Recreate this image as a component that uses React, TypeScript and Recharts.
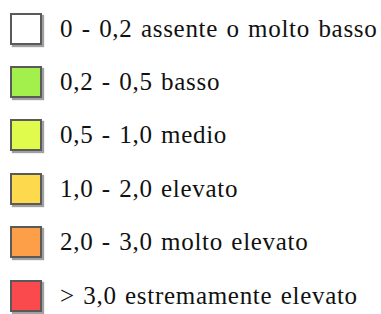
import { BarChart, Bar, Legend } from "recharts";

const labels = [
  "0 - 0,2 assente o molto basso",
  "0,2 - 0,5 basso",
  "0,5 - 1,0 medio",
  "1,0 - 2,0 elevato",
  "2,0 - 3,0 molto elevato",
  "> 3,0 estremamente elevato",
];
const colors = ["#ffffff", "#a3ef4c", "#e1fb4c", "#fdd94e", "#fd9f48", "#fb4a4e"];
const keys = ["c0", "c1", "c2", "c3", "c4", "c5"];

const data: Record<string, number | null>[] = [];

const renderLegend = (props: any) => {
  const { payload } = props;
  return (
    <div>
      {(payload || []).map((entry: any, i: number) => (
        <div
          key={i}
          style={{
            display: "flex",
            alignItems: "center",
            height: 53.4,
          }}
        >
          <div
            style={{
              width: 28,
              height: 28,
              marginLeft: 10,
              marginRight: 18,
              background: entry.color,
              border: "2px solid #5a5a5a",
              boxShadow: "2px 2px 1px #a0a0a0",
              flexShrink: 0,
            }}
          />
          <span
            style={{
              fontFamily: '"Liberation Serif", "Times New Roman", Times, serif',
              fontSize: 25,
              letterSpacing: 0.7,
              wordSpacing: 1.5,
              color: "#111",
              whiteSpace: "nowrap",
            }}
          >
            {entry.value}
          </span>
        </div>
      ))}
    </div>
  );
};

export default function App() {
  return (
    <div style={{ position: "absolute", left: 0, top: 0, width: 381, height: 314, background: "#fff" }}>
      <BarChart width={381} height={314} data={data} margin={{ top: 0, right: 0, bottom: 0, left: 0 }}>
        {keys.map((k, i) => (
          <Bar key={k} dataKey={k} name={labels[i]} fill={colors[i]} isAnimationActive={false} />
        ))}
        <Legend
          layout="vertical"
          verticalAlign="top"
          align="left"
          content={renderLegend}
          wrapperStyle={{ top: 2, left: 0, width: 381 }}
        />
      </BarChart>
    </div>
  );
}
